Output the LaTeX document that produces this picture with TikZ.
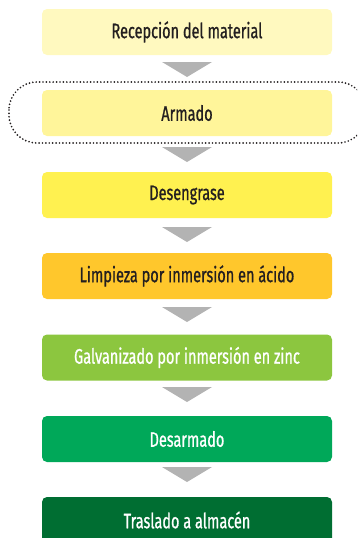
\documentclass[tikz,border=0pt]{standalone}
\usepackage{fontspec}
\setmainfont{Fira Sans}[FakeStretch=0.69, FakeBold=0.8]
\definecolor{cA}{HTML}{FFF9BF}
\definecolor{cB}{HTML}{FFF59A}
\definecolor{cC}{HTML}{FFF150}
\definecolor{cD}{HTML}{FFC72C}
\definecolor{cE}{HTML}{8CC63F}
\definecolor{cF}{HTML}{00A859}
\definecolor{cG}{HTML}{006E32}
\definecolor{arr}{HTML}{B3B3B3}
\definecolor{txt}{HTML}{231F20}
\tikzset{
  stepbox/.style={minimum width=290pt, minimum height=46pt, rounded corners=5pt,
    inner sep=0pt, font=\fontsize{21}{24}\selectfont, text=txt},
  lightbox/.style={stepbox, text=white},
  tri/.style={fill=arr},
}
\begin{document}
\begin{tikzpicture}[x=1pt,y=-1pt]
\useasboundingbox (0,0) rectangle (357,538);
\begin{scope}
\clip (0,0) rectangle (357,538);
\draw[line width=1.9pt, dash pattern=on 0pt off 3.4pt, line cap=round, rounded corners=28pt, color=txt]
  (9,82) rectangle (366,143);
\node[stepbox, fill=cA] (b1) at (187,32) {Recepción del material};
\node[stepbox, fill=cB] (b2) at (187,113) {Armado};
\node[stepbox, fill=cC] (b3) at (187,195) {Desengrase};
\node[stepbox, fill=cD] (b4) at (187,276) {Limpieza por inmersión en ácido};
\node[lightbox, fill=cE] (b5) at (187,357.5) {Galvanizado por inmersión en zinc};
\node[lightbox, fill=cF] (b6) at (187,439) {Desarmado};
\node[lightbox, fill=cG] (b7) at (187,520) {Traslado a almacén};
\foreach \t in {62,147,227,307,387,467}{
  \fill[tri] (162,\t) -- (212,\t) -- (187,\t+15) -- cycle;
}
\end{scope}
\end{tikzpicture}
\end{document}
